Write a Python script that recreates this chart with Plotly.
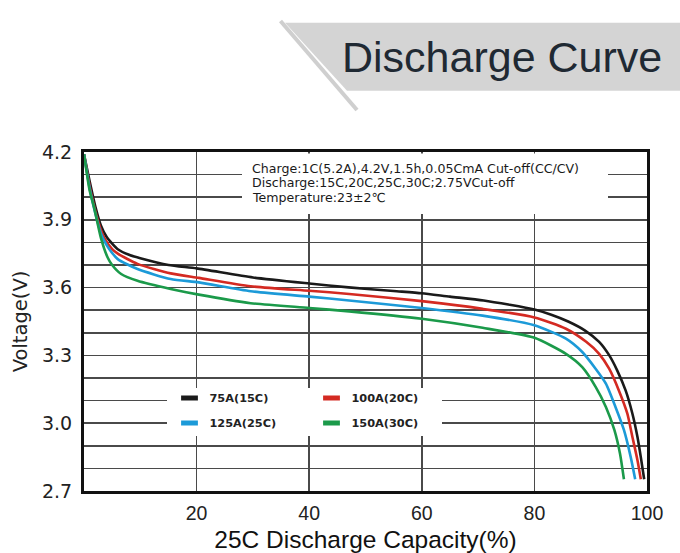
import plotly.graph_objects as go

# ---------------- data ----------------
series_names = ["75A(15C)", "100A(20C)", "125A(25C)", "150A(30C)"]
series_colors = ["#1a1a1a", "#d42a22", "#1c9ad8", "#1b9a4a"]

cap_75A = [0, 1, 2, 3, 4, 5, 6, 8, 10, 15, 20, 30, 40, 47, 55, 60, 65, 71, 80, 83, 86, 89, 91.5, 93.3, 94.7, 96.2, 97.4, 98.3, 98.9, 99.5]
volt_75A = [4.19, 4.07, 3.96, 3.875, 3.825, 3.795, 3.77, 3.745, 3.73, 3.70, 3.685, 3.645, 3.618, 3.601, 3.585, 3.575, 3.56, 3.543, 3.503, 3.48, 3.45, 3.41, 3.36, 3.30, 3.234, 3.145, 3.043, 2.94, 2.85, 2.752]

cap_100A = [0, 1, 2, 3, 3.6, 5, 6, 9.5, 15.4, 20.4, 29.6, 40, 47.1, 60, 70.8, 80, 85.6, 89.2, 91.5, 93.3, 95.0, 96.5, 97.4, 98.3, 98.9]
volt_100A = [4.19, 4.05, 3.94, 3.855, 3.82, 3.77, 3.75, 3.705, 3.663, 3.643, 3.606, 3.586, 3.572, 3.54, 3.506, 3.468, 3.418, 3.36, 3.307, 3.24, 3.145, 3.043, 2.94, 2.837, 2.752]

cap_125A = [0, 1, 2, 3, 3.6, 4.5, 6, 9.5, 15.4, 20.4, 29.6, 40, 47.1, 60, 70.8, 80, 85.6, 88.5, 90.9, 92.7, 94.4, 95.9, 97.1, 97.9]
volt_125A = [4.19, 4.04, 3.93, 3.84, 3.807, 3.77, 3.726, 3.682, 3.638, 3.623, 3.584, 3.56, 3.543, 3.51, 3.476, 3.433, 3.374, 3.315, 3.24, 3.175, 3.072, 2.97, 2.851, 2.752]

cap_150A = [0, 1, 1.8, 3, 4.2, 5, 6.6, 9.5, 15.4, 20.4, 29.6, 40, 47.1, 60, 70.8, 80, 85.6, 88.5, 90.9, 92.7, 94.2, 95.2, 95.9]
volt_150A = [4.19, 4.03, 3.954, 3.82, 3.733, 3.70, 3.66, 3.63, 3.594, 3.569, 3.531, 3.51, 3.495, 3.462, 3.422, 3.378, 3.307, 3.248, 3.16, 3.072, 2.97, 2.866, 2.752]

x_tick_vals = [20, 40, 60, 80, 100]
x_tick_text = ["20", "40", "60", "80", "100"]
y_tick_vals = [2.7, 3.0, 3.3, 3.6, 3.9, 4.2]
y_tick_text = ["2.7", "3.0", "3.3", "3.6", "3.9", "4.2"]

title_text = "Discharge Curve"
x_title = "25C Discharge Capacity(%)"
y_title = "Voltage(V)"
note_lines = [
    "Charge:1C(5.2A),4.2V,1.5h,0.05CmA Cut-off(CC/CV)",
    "Discharge:15C,20C,25C,30C;2.75VCut-off",
    "Temperature:23\u00b12\u2103",
]

caps = [cap_75A, cap_100A, cap_125A, cap_150A]
volts = [volt_75A, volt_100A, volt_125A, volt_150A]

# ---------------- layout geometry (pixels) ----------------
W, H = 680, 553
L, R, T, B = 84, 33, 152, 62
PW, PH = W - L - R, H - T - B

def px(x):
    return (x - L) / PW

def py(y):
    return (H - B - y) / PH

ARIAL = "Liberation Sans, Arial, sans-serif"
DEJA = "DejaVu Sans, sans-serif"
GRID = "#4a4a4a"

fig = go.Figure()

for name, color, xs, ys in zip(series_names, series_colors, caps, volts):
    fig.add_trace(go.Scatter(
        x=xs, y=ys, mode="lines", name=name, showlegend=False,
        line=dict(color=color, width=2.6, shape="spline", smoothing=0.6),
        hoverinfo="skip",
    ))

# legend entries (two rows, two legends)
for i, (name, color) in enumerate(zip(series_names, series_colors)):
    fig.add_trace(go.Scatter(
        x=[None], y=[None], mode="markers", name=name,
        marker=dict(symbol="line-ew", size=12, line=dict(color=color, width=5)),
        legend="legend" if i < 2 else "legend2",
        showlegend=True,
    ))

legend_common = dict(
    orientation="h", xanchor="left", yanchor="middle",
    bgcolor="rgba(0,0,0,0)", borderwidth=0,
    font=dict(family=DEJA, size=11.3, color="#222222", weight="bold"),
    entrywidth=97, entrywidthmode="pixels",
    itemwidth=30, itemclick=False, itemdoubleclick=False,
)

shapes = [
    # white cut-outs in the grid for note and legend
    dict(type="rect", xref="paper", yref="paper", layer="above",
         x0=px(242), x1=px(608), y0=py(214), y1=py(153.5),
         fillcolor="white", line=dict(width=0)),
    dict(type="rect", xref="paper", yref="paper", layer="above",
         x0=px(167), x1=px(442), y0=py(436), y1=py(388),
         fillcolor="white", line=dict(width=0)),
    # title banner
    dict(type="path", xref="paper", yref="paper", layer="above",
         path=f"M{px(285)},{py(22.7)} L{px(690)},{py(22.7)} L{px(690)},{py(90.7)} L{px(347)},{py(90.7)} Z",
         fillcolor="#d4d4d4", line=dict(width=0)),
    dict(type="line", xref="paper", yref="paper", layer="above",
         x0=px(280.5), y0=py(21), x1=px(357), y1=py(110),
         line=dict(color="#cfcfcf", width=4)),
]

annotations = [
    dict(text=title_text, xref="paper", yref="paper", x=px(502), y=py(57),
         xanchor="center", yanchor="middle", showarrow=False,
         font=dict(family=ARIAL, size=43, color="#1f2933")),
]
for i, line in enumerate(note_lines):
    annotations.append(dict(
        text=line, xref="paper", yref="paper", x=px(250), y=py(168.3 + 14.4 * i),
        xanchor="left", yanchor="middle", showarrow=False,
        font=dict(family=DEJA, size=12.6, color="#1a1a1a"),
    ))

fig.update_layout(
    width=W, height=H,
    margin=dict(l=L, r=R, t=T, b=B, autoexpand=False),
    paper_bgcolor="white", plot_bgcolor="white",
    font=dict(family=ARIAL, color="#222222"),
    showlegend=True,
    legend=dict(x=px(169.5), y=py(398), **legend_common),
    legend2=dict(x=px(169.5), y=py(423), **legend_common),
    shapes=shapes,
    annotations=annotations,
    xaxis=dict(
        range=[0, 100], tickvals=x_tick_vals, ticktext=x_tick_text,
        showgrid=True, gridcolor=GRID, gridwidth=1.5,
        showline=True, linecolor="#111111", linewidth=3, mirror=True,
        ticks="", zeroline=False, ticklabelstandoff=3,
        tickfont=dict(family=ARIAL, size=19.5, color="#222222"),
        title=dict(text=x_title, font=dict(family=ARIAL, size=24.5, color="#111111"), standoff=13),
    ),
    yaxis=dict(
        range=[2.7, 4.2], tickvals=y_tick_vals, ticktext=y_tick_text,
        showgrid=True, gridcolor=GRID, gridwidth=1.5,
        minor=dict(dtick=0.1, tick0=2.7, showgrid=True, gridcolor=GRID, gridwidth=1.5),
        showline=True, linecolor="#111111", linewidth=3, mirror=True,
        ticks="", zeroline=False, ticklabelstandoff=5,
        tickfont=dict(family=DEJA, size=19, color="#222222"),
        title=dict(text=y_title, font=dict(family=DEJA, size=19.5, color="#222222"), standoff=10),
    ),
)

fig.write_html(
    "out.html",
    config={"displayModeBar": False, "staticPlot": True},
    post_script="document.body.style.margin='0';document.body.style.overflow='hidden';",
)
